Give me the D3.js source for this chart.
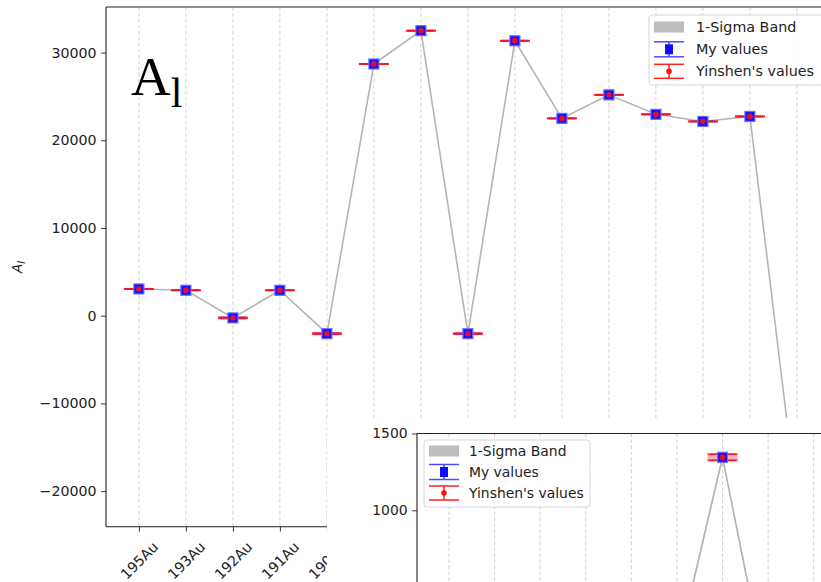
<!DOCTYPE html>
<html><head><meta charset="utf-8">
<script src="https://cdn.jsdelivr.net/npm/d3@7"></script>
<style>body{margin:0;background:#fff}svg{display:block}text{font-family:"DejaVu Sans",sans-serif;fill:#222}</style>
</head><body><svg id="c" width="821" height="582"></svg>
<script>
// ---------- data ----------
const categories = ["195Au","193Au","192Au","191Au","190Au","189Au","188Au","187Au","186Au","185Au","184Au","183Au","182Au","181Au","180Au"];
const myValues      = [3050, 2900, -250, 2900, -2050, 28700, 32500, -2050, 31350, 22500, 25180, 22960, 22150, 22720, -21300];
const myErrors      = [25, 20, 70, 20, 70, 25, 25, 60, 25, 25, 25, 25, 25, 25, 40];
const yinshenValues = [3050, 2900, -250, 2900, -2050, 28700, 32500, -2050, 31350, 22500, 25180, 22960, 22150, 22720, -21300];
const yinshenErrors = [20, 15, 60, 15, 60, 20, 20, 50, 20, 20, 20, 20, 20, 20, 30];
const yTicks = [-20000, -10000, 0, 10000, 20000, 30000];
// inset (second chart pasted over the first one)
const insetValues   = [300, 250, 200, 150, 120, 75, 1345, -130, 100, 150, 200, 150, 120, 100, 80];
const insetErrors   = [20, 20, 20, 20, 20, 20, 20, 20, 20, 20, 20, 20, 20, 20, 20];
const insetYTicks = [1000, 1500];
const legendLabels = ["1-Sigma Band", "My values", "Yinshen's values"];

const svg = d3.select("#c");
const idx = d3.range(categories.length);
const fmt = d3.format("d");

// ---------- main chart ----------
const x = d3.scaleLinear().domain([-0.7, 14.7]).range([106, 829.8]);
const y = d3.scaleLinear().domain([-24060, 35200]).range([526.7, 7]);

const main = svg.append("g");
// grid
main.append("g").selectAll("line").data(idx).join("line")
  .attr("x1", i => x(i)).attr("x2", i => x(i)).attr("y1", 7).attr("y2", 526.7)
  .attr("stroke", "#c4c4c4").attr("stroke-width", 0.8).attr("stroke-dasharray", "3.5,2.5");

// sigma band
main.append("path").datum(idx)
  .attr("d", d3.area().x(i => x(i)).y0(i => y(myValues[i] - myErrors[i])).y1(i => y(myValues[i] + myErrors[i])))
  .attr("fill", "#808080").attr("opacity", 0.5);
// connecting line
main.append("path").datum(idx)
  .attr("d", d3.line().x(i => x(i)).y(i => y(myValues[i])))
  .attr("fill", "none").attr("stroke", "#b5b5b5").attr("stroke-width", 1.6);

function drawPoints(g, xs, ys, vals, errs, vals2, errs2, fillCaps) {
  const pg = g.append("g");
  idx.forEach(i => {
    const cx = xs(i);
    if (fillCaps) {
      pg.append("rect").attr("x", cx - 15).attr("y", ys(vals2[i] + errs2[i])).attr("width", 30)
        .attr("height", ys(vals2[i] - errs2[i]) - ys(vals2[i] + errs2[i])).attr("fill", "#ff8080").attr("opacity", 0.6);
    }
    // blue error bar
    [vals[i] - errs[i], vals[i] + errs[i]].forEach(v => {
      pg.append("line").attr("x1", cx - 13).attr("x2", cx + 13).attr("y1", ys(v)).attr("y2", ys(v))
        .attr("stroke", "#3a3aff").attr("stroke-width", 1.5).attr("opacity", 0.8);
    });
    pg.append("line").attr("x1", cx).attr("x2", cx).attr("y1", ys(vals[i] - errs[i])).attr("y2", ys(vals[i] + errs[i]))
      .attr("stroke", "#3a3aff").attr("stroke-width", 1.5);
    // red error bar
    [vals2[i] - errs2[i], vals2[i] + errs2[i]].forEach(v => {
      pg.append("line").attr("x1", cx - 15).attr("x2", cx + 15).attr("y1", ys(v)).attr("y2", ys(v))
        .attr("stroke", "#ff1020").attr("stroke-width", 1.7).attr("opacity", 0.85);
    });
    pg.append("rect").attr("x", cx - 5).attr("y", ys(vals[i]) - 5).attr("width", 10).attr("height", 10)
      .attr("fill", "#1010ff").attr("stroke", "#6b6bff").attr("stroke-width", 1.2);
    pg.append("line").attr("x1", cx).attr("x2", cx).attr("y1", ys(vals2[i] - errs2[i])).attr("y2", ys(vals2[i] + errs2[i]))
      .attr("stroke", "#ff1020").attr("stroke-width", 1.5);
    pg.append("circle").attr("cx", cx).attr("cy", ys(vals2[i])).attr("r", 2.9).attr("fill", "#e0102c");
  });
}
drawPoints(main, x, y, myValues, myErrors, yinshenValues, yinshenErrors, false);

// axes
const yAxis = main.append("g").attr("transform", "translate(106,0)")
  .call(d3.axisLeft(y).tickValues(yTicks).tickFormat(fmt).tickSize(4.9).tickPadding(4.5));
yAxis.select(".domain").remove();
yAxis.selectAll("text").style("font-size", "14.2px").attr("fill", "#222");
yAxis.selectAll("line").attr("stroke", "#222").attr("stroke-width", 0.9);

const xAxis = main.append("g").attr("transform", "translate(0,526.7)")
  .call(d3.axisBottom(x).tickValues(idx).tickFormat(i => categories[i]).tickSize(4.9));
xAxis.select(".domain").remove();
xAxis.selectAll("line").attr("stroke", "#222").attr("stroke-width", 0.9);
xAxis.selectAll("text").style("font-size", "14.2px").attr("fill", "#222")
  .attr("y", 0).attr("dy", null).attr("text-anchor", "middle").attr("dominant-baseline", "central")
  .each(function () {
    const w = this.getComputedTextLength();
    const cy = 14 + (w + 10) / (2 * Math.SQRT2);
    d3.select(this).attr("transform", `translate(0,${cy}) rotate(-45)`);
  });

// spines
main.append("line").attr("x1", 106).attr("x2", 106).attr("y1", 7).attr("y2", 526.7).attr("stroke", "#222").attr("stroke-width", 1.1);
main.append("line").attr("x1", 106).attr("x2", 830).attr("y1", 7).attr("y2", 7).attr("stroke", "#222").attr("stroke-width", 1.1);
main.append("line").attr("x1", 106).attr("x2", 830).attr("y1", 526.7).attr("y2", 526.7).attr("stroke", "#222").attr("stroke-width", 1.1);

// y label
const yl = main.append("text").attr("transform", "translate(22,267) rotate(-90)").attr("text-anchor", "middle")
  .style("font-size", "13.5px").style("font-style", "italic");
yl.append("tspan").text("A");
yl.append("tspan").attr("dy", 3).style("font-size", "10px").text("l");

// big label
const big = main.append("text").attr("x", 131).attr("y", 95).style("font-family", "'Liberation Serif', serif").style("fill", "#000");
big.append("tspan").style("font-size", "55px").text("A");
big.append("tspan").attr("dy", 12).style("font-size", "42px").text("l");

function drawLegend(g, bx, by, bw, bh, px, tx, rows, fs) {
  g.append("rect").attr("x", bx).attr("y", by).attr("width", bw).attr("height", bh).attr("rx", 3)
    .attr("fill", "#fff").attr("fill-opacity", 0.85).attr("stroke", "#d6d6d6").attr("stroke-width", 1);
  // band
  g.append("rect").attr("x", px).attr("y", rows[0] - 5.5).attr("width", 30).attr("height", 11).attr("fill", "#bdbdbd");
  // my values
  const cx = px + 15;
  [rows[1] - 7.5, rows[1] + 7.5].forEach(yy => g.append("line").attr("x1", px).attr("x2", px + 30).attr("y1", yy).attr("y2", yy)
    .attr("stroke", "#4a4aff").attr("stroke-width", 1.5));
  g.append("line").attr("x1", cx).attr("x2", cx).attr("y1", rows[1] - 7.5).attr("y2", rows[1] + 7.5).attr("stroke", "#4a4aff").attr("stroke-width", 1.5);
  g.append("rect").attr("x", cx - 4).attr("y", rows[1] - 5).attr("width", 8).attr("height", 10).attr("fill", "#1010ff");
  // yinshen
  [rows[2] - 7, rows[2] + 7].forEach(yy => g.append("line").attr("x1", px).attr("x2", px + 30).attr("y1", yy).attr("y2", yy)
    .attr("stroke", "#ff2020").attr("stroke-width", 1.5));
  g.append("line").attr("x1", cx).attr("x2", cx).attr("y1", rows[2] - 7).attr("y2", rows[2] + 7).attr("stroke", "#ff2020").attr("stroke-width", 1.5);
  g.append("circle").attr("cx", cx).attr("cy", rows[2]).attr("r", 2.8).attr("fill", "#ff1010");
  legendLabels.forEach((t, i) => g.append("text").attr("x", tx).attr("y", rows[i]).attr("dominant-baseline", "central")
    .style("font-size", fs + "px").text(t));
}
drawLegend(main, 649, 15, 190, 70, 654, 696, [27, 49.3, 71.3], 14.3);

// ---------- inset chart ----------
const inset = svg.append("g");
inset.append("rect").attr("x", 327).attr("y", 418).attr("width", 500).attr("height", 170).attr("fill", "#fff");
const clip = svg.append("clipPath").attr("id", "ic");
clip.append("rect").attr("x", 417).attr("y", 433.5).attr("width", 420).attr("height", 160);

const xi = d3.scaleLinear().domain([-0.7, 14.7]).range([417, 1119.2]);
const yi = d3.scaleLinear().domain([1000, 1500]).range([510.3, 433.5]);
const ig = inset.append("g").attr("clip-path", "url(#ic)");
ig.append("g").selectAll("line").data(idx).join("line")
  .attr("x1", i => xi(i)).attr("x2", i => xi(i)).attr("y1", 433.5).attr("y2", 600)
  .attr("stroke", "#c4c4c4").attr("stroke-width", 0.8).attr("stroke-dasharray", "3.5,2.5");
ig.append("path").datum(idx)
  .attr("d", d3.area().x(i => xi(i)).y0(i => yi(insetValues[i] - insetErrors[i])).y1(i => yi(insetValues[i] + insetErrors[i])))
  .attr("fill", "#808080").attr("opacity", 0.35);
ig.append("path").datum(idx)
  .attr("d", d3.line().x(i => xi(i)).y(i => yi(insetValues[i])))
  .attr("fill", "none").attr("stroke", "#b5b5b5").attr("stroke-width", 1.6);
drawPoints(ig, xi, yi, insetValues, insetErrors, insetValues, insetErrors, true);

const yAxisI = inset.append("g").attr("transform", "translate(417,0)")
  .call(d3.axisLeft(yi).tickValues(insetYTicks).tickFormat(fmt).tickSize(4.9).tickPadding(4.5));
yAxisI.select(".domain").remove();
yAxisI.selectAll("text").style("font-size", "13.9px").attr("fill", "#222");
yAxisI.selectAll("line").attr("stroke", "#222").attr("stroke-width", 0.9);
inset.append("line").attr("x1", 417).attr("x2", 417).attr("y1", 433.5).attr("y2", 590).attr("stroke", "#222").attr("stroke-width", 1.1);
inset.append("line").attr("x1", 417).attr("x2", 830).attr("y1", 433.5).attr("y2", 433.5).attr("stroke", "#222").attr("stroke-width", 1.1);

drawLegend(inset, 424, 440, 166, 67, 429, 469, [451, 472, 493], 13.9);
</script></body></html>
